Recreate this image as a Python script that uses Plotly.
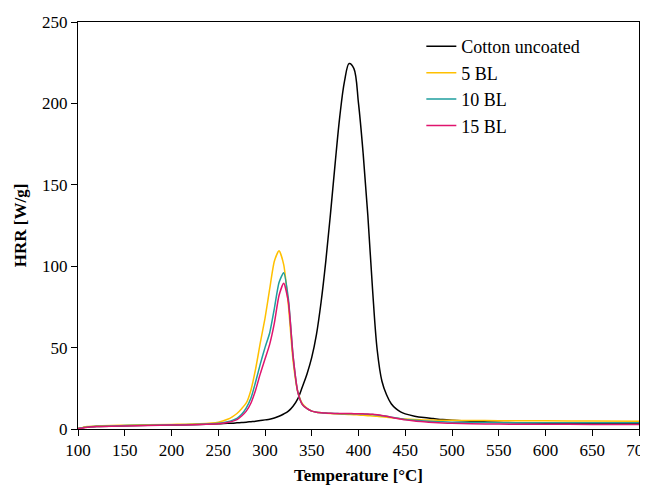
import plotly.graph_objects as go

temperature = [100, 105, 110, 120, 150, 200, 230, 250, 260, 265, 270, 275, 280, 285, 290, 295,
               300, 305, 310, 315, 320, 325, 330, 335, 340, 345, 350, 355, 360, 365, 370, 375,
               380, 385, 390, 395, 400, 405, 410, 415, 420, 425, 430, 435, 440, 445, 450, 460,
               470, 480, 490, 500, 520, 550, 600, 650, 700]

cotton_uncoated = [0.3, 0.8, 1.2, 1.6, 2.0, 2.5, 2.8, 3.2, 3.5, 3.6, 3.8, 4.0, 4.2, 4.5, 4.8, 5.2,
                   5.6, 6.0, 6.8, 7.8, 9.2, 11.0, 14.0, 18.5, 26.0, 34.0, 44.0, 58.0, 78.0, 103.0, 132.0, 163.0,
                   192.0, 213.5, 224.5, 221.5, 200.0, 169.0, 131.0, 86.0, 48.5, 29.5, 21.0, 15.5, 12.5, 10.5, 9.3, 7.9,
                   7.0, 6.4, 5.8, 5.4, 4.8, 4.1, 3.6, 3.4, 3.3]

bl5 = [0.3, 1.0, 1.5, 1.9, 2.3, 2.8, 3.2, 4.2, 6.0, 7.5, 9.5, 12.5, 16.0, 24.0, 37.0, 53.0,
       68.0, 86.0, 103.0, 109.5, 101.0, 76.0, 42.0, 23.0, 15.5, 12.7, 11.0, 10.3, 10.0, 9.7, 9.5, 9.3,
       9.2, 9.0, 8.9, 8.8, 8.6, 8.4, 8.2, 8.0, 7.8, 7.5, 7.2, 6.9, 6.6, 6.3, 6.1, 5.8,
       5.6, 5.5, 5.4, 5.3, 5.2, 5.1, 5.0, 4.9, 4.8]

bl10 = [0.2, 0.8, 1.3, 1.7, 2.1, 2.6, 2.9, 3.5, 4.5, 5.3, 6.5, 9.0, 13.0, 19.0, 29.0, 40.0,
        50.0, 59.0, 74.0, 90.0, 96.0, 80.0, 45.0, 23.0, 15.0, 12.5, 11.0, 10.3, 10.0, 9.8, 9.6, 9.5,
        9.4, 9.4, 9.4, 9.3, 9.3, 9.2, 9.1, 8.9, 8.6, 8.2, 7.8, 7.3, 6.8, 6.3, 5.9, 5.3,
        4.9, 4.6, 4.4, 4.2, 4.0, 3.9, 3.8, 3.8, 3.8]

bl15 = [0.1, 0.6, 1.1, 1.5, 1.9, 2.4, 2.7, 3.2, 4.0, 4.7, 5.8, 8.0, 11.0, 16.0, 24.0, 34.0,
        43.0, 52.0, 65.0, 82.0, 89.5, 78.0, 45.0, 23.0, 15.0, 12.5, 11.0, 10.3, 10.0, 9.8, 9.6, 9.5,
        9.5, 9.5, 9.5, 9.4, 9.4, 9.3, 9.2, 9.0, 8.7, 8.3, 7.8, 7.2, 6.6, 6.1, 5.6, 4.9,
        4.4, 4.0, 3.7, 3.5, 3.2, 3.0, 2.9, 2.8, 2.8]

series = [
    ("Cotton uncoated", cotton_uncoated, "#000000", 1.0),
    ("5 BL", bl5, "#FFC000", 0.6),
    ("10 BL", bl10, "#1E9E9E", 0.6),
    ("15 BL", bl15, "#E0146E", 0.6),
]

x_ticks = list(range(100, 701, 50))
y_ticks = list(range(0, 251, 50))

FONT = "Liberation Serif"

fig = go.Figure()
for name, vals, color, smooth in series:
    fig.add_trace(go.Scatter(
        x=temperature, y=vals, name=name, mode="lines",
        line=dict(color=color, width=1.5, shape="spline", smoothing=smooth),
    ))

fig.update_layout(
    width=648, height=486,
    margin=dict(l=70, r=17, t=14, b=65),
    paper_bgcolor="white", plot_bgcolor="white",
    font=dict(family=FONT, size=17, color="#000000"),
    showlegend=True,
    legend=dict(
        x=0.612, y=0.985, xanchor="left", yanchor="top",
        bgcolor="rgba(0,0,0,0)", font=dict(family=FONT, size=18),
        tracegroupgap=0, itemwidth=30,
    ),
)
fig.update_xaxes(
    range=[100, 700], tickvals=x_ticks, ticks="outside", ticklen=6, tickcolor="#000000",
    showline=True, linecolor="#000000", linewidth=1, mirror=True, showgrid=False, zeroline=False,
    title=dict(text="<b>Temperature [°C]</b>", font=dict(family=FONT, size=17), standoff=9),
    tickfont=dict(family=FONT, size=17), automargin=False, ticklabeloverflow="allow",
)
fig.update_yaxes(
    range=[0, 250], tickvals=y_ticks, ticks="outside", ticklen=6, tickcolor="#000000",
    showline=True, linecolor="#000000", linewidth=1, mirror=True, showgrid=False, zeroline=False,
    title=dict(text="<b>HRR [W/g]</b>", font=dict(family=FONT, size=17), standoff=11),
    tickfont=dict(family=FONT, size=17), automargin=False,
)

fig.write_html("out.html")
